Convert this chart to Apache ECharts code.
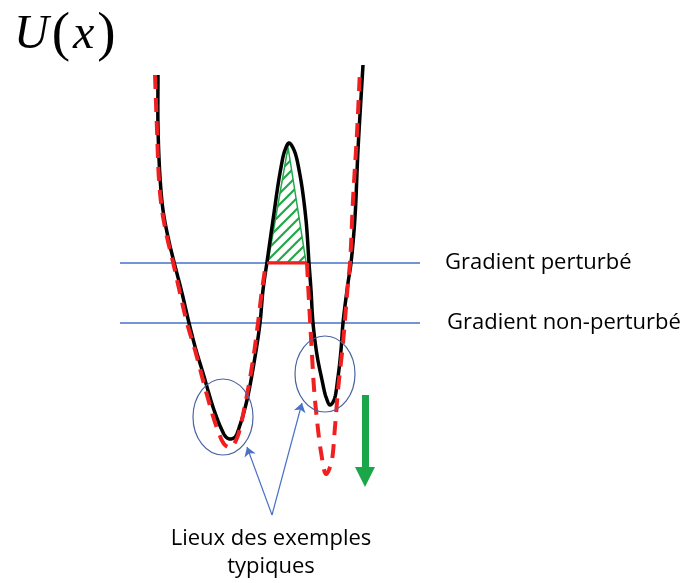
<!DOCTYPE html>
<html>
<head>
<meta charset="utf-8">
<script src="https://cdn.jsdelivr.net/npm/echarts@6/dist/echarts.min.js"></script>
<style>html,body{margin:0;padding:0;background:#fff;}#c{width:693px;height:583px;}</style>
</head>
<body>
<div id="c"></div>
<script>
// Potential curve U(x) (arbitrary units)
var blackCurve = [[38,405],[38,353],[40,303],[43,270],[48,243],[54,218],[62,187],[69,157],[76,130],[83,107],[93,73],[101,52],[106,43],[110,41],[115,43],[120,55],[127,80],[135,123],[140,157],[143,190],[147,218],[153,260],[160,307],[165,330],[169,337],[174,330],[180,305],[186,260],[189,217],[191,190],[193,157],[197,125],[202,100],[206,83],[210,75],[214,80],[218,103],[221,130],[223,157],[228,197],[231,217],[235,263],[238,330],[243,415]];
var redLeft = [[35,405],[37,350],[39,300],[42,270],[47,243],[53,218],[60,187],[67,157],[75,130],[87,85],[97,52],[105,35],[111,33],[117,42],[125,75],[133,120],[138,157],[142,190],[146,217]];
var redFlat = [[147,217],[187,217]];
var redRight = [[187,217],[188,197],[190,160],[192,125],[194,92],[197,60],[201,28],[206,6],[211,16],[215,53],[218,90],[223,137],[228,197],[230,217],[233,280],[237,347],[240,410]];
var gradPerturbe = [[0,217],[300,217]];
var gradNonPerturbe = [[0,157],[300,157]];
var hatchTriangle = [[148,218],[168,333],[186,218]];
var ellipses = [[103,63,30,38],[205,106,30,38]];
var blueArrows = [[[152,-35],[127,33]],[[152,-35],[182,77]]];
var greenArrow = [[245,85],[245,3]];
var noteLabel = [151,-73];
var noteText = 'Lieux des exemples\ntypiques';

var pat = document.createElement('canvas');
pat.width = 11; pat.height = 11;
var pc = pat.getContext('2d');
pc.strokeStyle = '#22a84a'; pc.lineWidth = 2.2;
pc.beginPath();
pc.moveTo(-3,14); pc.lineTo(14,-3);
pc.moveTo(-3,3); pc.lineTo(3,-3);
pc.moveTo(8,14); pc.lineTo(14,8);
pc.stroke();

// centripetal Catmull-Rom through pixel points
function spline(pts) {
  var out = [];
  var n = pts.length;
  function get(i) { return pts[Math.max(0, Math.min(n - 1, i))]; }
  function d(a, b) { return Math.pow(Math.hypot(b[0] - a[0], b[1] - a[1]), 0.5) || 1e-4; }
  for (var i = 0; i < n - 1; i++) {
    var p0 = i === 0 ? [2 * pts[0][0] - pts[1][0], 2 * pts[0][1] - pts[1][1]] : get(i - 1);
    var p1 = get(i), p2 = get(i + 1);
    var p3 = i + 2 >= n ? [2 * pts[n - 1][0] - pts[n - 2][0], 2 * pts[n - 1][1] - pts[n - 2][1]] : get(i + 2);
    var t0 = 0, t1 = t0 + d(p0, p1), t2 = t1 + d(p1, p2), t3 = t2 + d(p2, p3);
    var steps = 16;
    for (var s = (i === 0 ? 0 : 1); s <= steps; s++) {
      var t = t1 + (t2 - t1) * s / steps;
      var pt = [];
      for (var k = 0; k < 2; k++) {
        var A1 = (t1 - t) / (t1 - t0) * p0[k] + (t - t0) / (t1 - t0) * p1[k];
        var A2 = (t2 - t) / (t2 - t1) * p1[k] + (t - t1) / (t2 - t1) * p2[k];
        var A3 = (t3 - t) / (t3 - t2) * p2[k] + (t - t2) / (t3 - t2) * p3[k];
        var B1 = (t2 - t) / (t2 - t0) * A1 + (t - t0) / (t2 - t0) * A2;
        var B2 = (t3 - t) / (t3 - t1) * A2 + (t - t1) / (t3 - t1) * A3;
        pt.push((t2 - t) / (t2 - t1) * B1 + (t - t1) / (t2 - t1) * B2);
      }
      out.push(pt);
    }
  }
  return out;
}
function curveSeries(data, style, z) {
  return {type: 'custom', z: z, data: [0], clip: false,
    renderItem: function (params, api) {
      var pts = data.map(function (p) { return api.coord(p); });
      return {type: 'polyline', shape: {points: spline(pts)}, style: style};
    }};
}

var chart = echarts.init(document.getElementById('c'));
chart.setOption({
  animation: false,
  title: {
    left: 9, top: 3,
    text: '{i|U}{r|(}{i|x}{r|)}',
    textStyle: {
      fontWeight: 'normal',
      rich: {
        i: {fontFamily: 'Liberation Serif', fontStyle: 'italic', fontWeight: 'normal', fontSize: 48, color: '#000'},
        r: {fontFamily: 'Liberation Serif', fontWeight: 'normal', fontSize: 55, color: '#000', padding: [0, 3, 0, 3]}
      }
    }
  },
  grid: {left: 0, right: 0, top: 0, bottom: 0},
  xAxis: {type: 'value', min: -120, max: 573, show: false},
  yAxis: {type: 'value', min: -103, max: 480, show: false},
  series: [
    {type: 'custom', name: 'hatch', z: 1, data: [0],
      renderItem: function (params, api) {
        var pts = hatchTriangle.map(function (p) { return api.coord(p); });
        return {type: 'polygon', shape: {points: pts},
          style: {fill: {image: pat, repeat: 'repeat'}, stroke: '#22a84a', lineWidth: 1.5}};
      }},
    {type: 'line', name: 'Gradient perturbé', data: gradPerturbe, symbol: 'none', clip: false, z: 2,
      lineStyle: {color: '#4472c4', width: 1.6},
      endLabel: {show: true, formatter: '{a}', distance: 25, fontFamily: 'Open Sans', fontSize: 22, color: '#000'}},
    {type: 'line', name: 'Gradient non-perturbé', data: gradNonPerturbe, symbol: 'none', clip: false, z: 2,
      lineStyle: {color: '#4472c4', width: 1.6},
      endLabel: {show: true, formatter: '{a}', distance: 27, fontFamily: 'Open Sans', fontSize: 22, color: '#000'}},
    curveSeries(blackCurve, {fill: 'none', stroke: '#000', lineWidth: 3.5, lineJoin: 'round'}, 3),
    curveSeries(redLeft, {fill: 'none', stroke: '#f02020', lineWidth: 4, lineDash: [14, 9]}, 4),
    curveSeries(redRight, {fill: 'none', stroke: '#f02020', lineWidth: 4, lineDash: [14, 9]}, 4),
    {type: 'line', data: redFlat, symbol: 'none', z: 4,
      lineStyle: {color: '#f02020', width: 3}},
    {type: 'custom', name: 'ellipses', z: 5, data: ellipses,
      renderItem: function (params, api) {
        var c = api.coord([api.value(0), api.value(1)]);
        var s = api.size([api.value(2), api.value(3)]);
        return {type: 'ellipse', shape: {cx: c[0], cy: c[1], rx: s[0], ry: s[1]},
          style: {fill: 'none', stroke: '#4a64a0', lineWidth: 1.2}};
      }},
    {type: 'lines', coordinateSystem: 'cartesian2d', z: 5,
      data: blueArrows.map(function (c) { return {coords: c}; }),
      symbol: ['none', 'arrow'], symbolSize: 9,
      lineStyle: {color: '#4a72c8', width: 1.2, opacity: 1, curveness: 0}},
    {type: 'lines', coordinateSystem: 'cartesian2d', z: 5,
      data: [{coords: greenArrow}],
      symbol: ['none', 'triangle'], symbolSize: 20,
      lineStyle: {color: '#1ca64a', width: 7, opacity: 1, curveness: 0},
      itemStyle: {color: '#1ca64a'}},
    {type: 'custom', z: 6, data: [0], clip: false,
      renderItem: function (params, api) {
        var c = api.coord(noteLabel);
        return {type: 'text', x: c[0], y: c[1],
          style: {text: noteText, fontFamily: 'Open Sans', fontSize: 22, lineHeight: 28,
            fill: '#000', align: 'center', verticalAlign: 'middle'}};
      }}
  ]
});
</script>
</body>
</html>
